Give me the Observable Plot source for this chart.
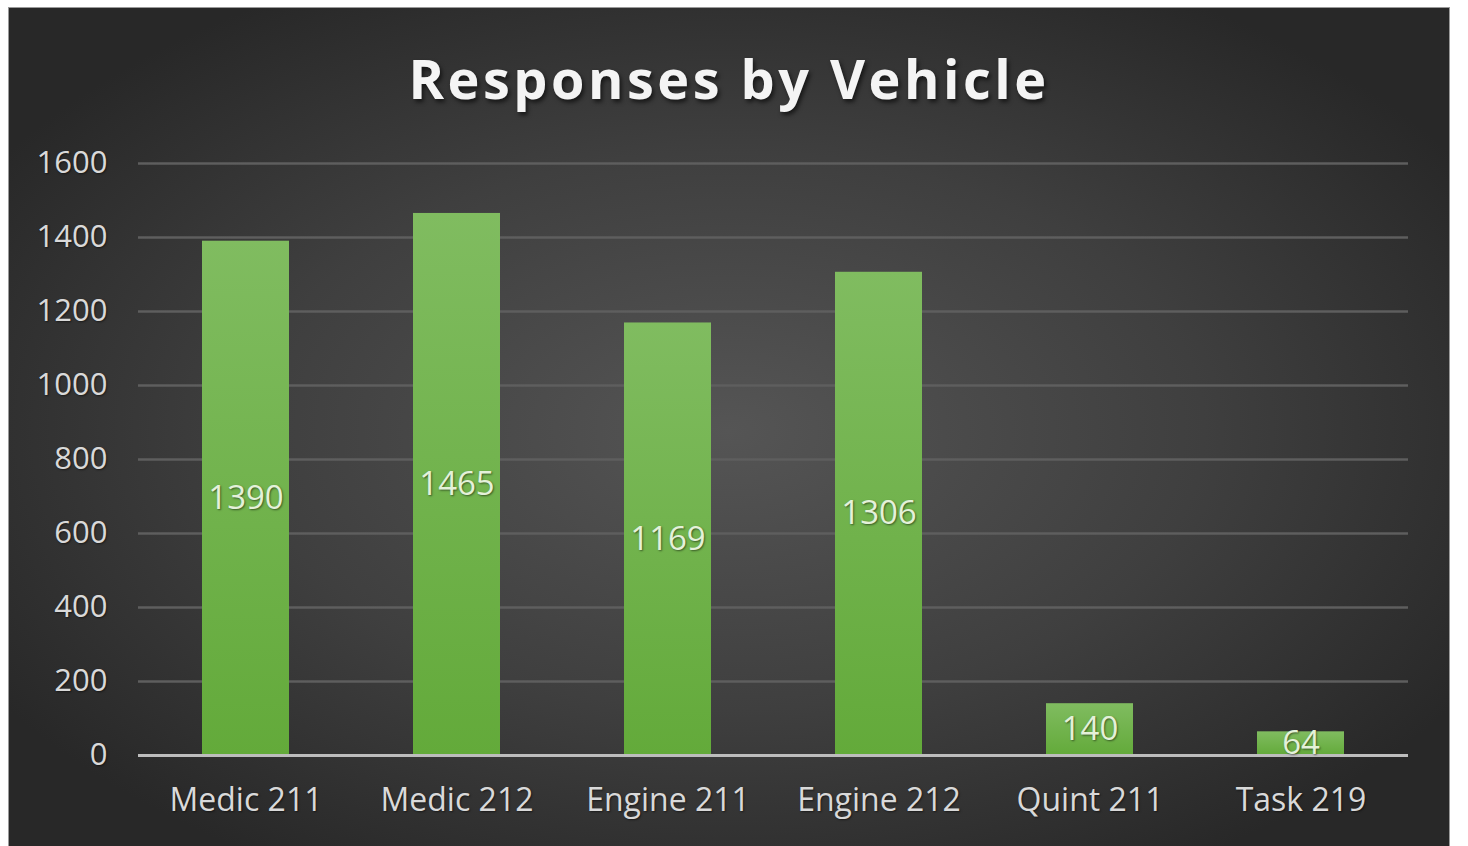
<!DOCTYPE html>
<html>
<head>
<meta charset="utf-8">
<script src="https://cdn.jsdelivr.net/npm/d3@7"></script>
<script src="https://cdn.jsdelivr.net/npm/@observablehq/plot@0.6"></script>
<style>
  html, body { margin: 0; padding: 0; background: #ffffff; width: 1468px; height: 846px; overflow: hidden; }
  #panel {
    position: absolute; left: 8px; top: 7px; width: 1440px; height: 845px;
    border: 1px solid #9a9a9a; border-bottom: none;
    background: radial-gradient(ellipse 60% 60% at 50% 50%, #555555 0%, #3f3f3f 55%, #282828 100%);
    font-family: "Open Sans", sans-serif;
  }
  #title {
    position: absolute; left: 0; top: 33px; width: 1440px; text-align: center;
    color: #f4f4f4; font-size: 54px; font-weight: 700; letter-spacing: 3.5px;
    text-shadow: 2px 3px 4px rgba(0,0,0,0.6);
  }
  #chart { position: absolute; left: 0; top: 130px; }
  #chart svg text { text-shadow: 1px 1px 2px rgba(0,0,0,0.5); }
</style>
</head>
<body>
<div id="panel">
  <div id="title">Responses by Vehicle</div>
  <div id="chart"></div>
</div>
<script>
const vehicles = ["Medic 211", "Medic 212", "Engine 211", "Engine 212", "Quint 211", "Task 219"];
const responses = [1390, 1465, 1169, 1306, 140, 64];
const yTicks = [0, 200, 400, 600, 800, 1000, 1200, 1400, 1600];

const data = vehicles.map((v, i) => ({vehicle: v, value: responses[i]}));

const plot = Plot.plot({
  width: 1440,
  height: 709,
  marginTop: 25,
  marginBottom: 92,
  marginLeft: 129,
  marginRight: 41,
  style: {background: "transparent", color: "#d9d9d9", fontFamily: "Open Sans, sans-serif", fontSize: "31px", overflow: "visible"},
  x: {domain: vehicles, paddingInner: 0.59, paddingOuter: 0.295, label: null},
  y: {domain: [0, 1600], label: null},
  marks: [
    Plot.gridY(yTicks.filter(d => d > 0), {stroke: "#5e5e5e", strokeOpacity: 1, strokeWidth: 2.5}),
    Plot.barY(data, {x: "vehicle", y: "value", fill: "url(#barGrad)"}),
    Plot.ruleY([0], {stroke: "#bdbdbd", strokeWidth: 3}),
    Plot.text(data, {x: "vehicle", y: d => d.value / 2, text: d => String(d.value), fill: "#e4f1d9", fontSize: 33}),
    Plot.axisY({ticks: yTicks, tickSize: 0, tickPadding: 31, fontSize: 31, fill: "#d9d9d9", tickFormat: d => String(d)}),
    Plot.axisX({tickSize: 0, tickPadding: 33, fontSize: 32, fill: "#d9d9d9"})
  ]
});

const defs = d3.select(plot).insert("defs", ":first-child");
const grad = defs.append("linearGradient").attr("id", "barGrad").attr("x1", 0).attr("y1", 0).attr("x2", 0).attr("y2", 1);
grad.append("stop").attr("offset", "0%").attr("stop-color", "#80bc60");
grad.append("stop").attr("offset", "100%").attr("stop-color", "#63aa3a");

document.getElementById("chart").appendChild(plot);
</script>
</body>
</html>
